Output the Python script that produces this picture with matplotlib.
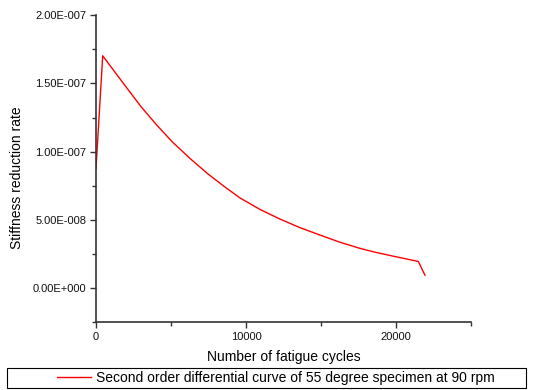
import matplotlib
matplotlib.use("Agg")
import matplotlib.pyplot as plt
from matplotlib.patches import Rectangle
from matplotlib.ticker import MultipleLocator, FuncFormatter

cycles = [0, 447, 1822, 3000, 4047, 5100, 6267, 7420, 8487, 9600, 10930, 12267,
          13600, 14933, 16267, 17600, 18600, 19600, 21487, 21933]
rate = [8.76e-8, 1.703e-7, 1.501e-7, 1.33e-7, 1.195e-7, 1.07e-7, 9.5e-8, 8.4e-8, 7.49e-8,
        6.6e-8, 5.76e-8, 5.05e-8, 4.42e-8, 3.88e-8, 3.35e-8, 2.9e-8, 2.62e-8, 2.38e-8,
        1.94e-8, 9.3e-9]
series_label = "Second order differential curve of 55 degree specimen at 90 rpm"
x_label = "Number of fatigue cycles"
y_label = "Stiffness reduction rate"
y_tick_labels = {0: "0.00E+000", 1: "5.00E-008", 2: "1.00E-007", 3: "1.50E-007", 4: "2.00E-007"}

plt.rcParams['font.family'] = ['Liberation Sans', 'DejaVu Sans']
W, H = 534, 390
fig = plt.figure(figsize=(W / 100, H / 100), dpi=100)
ax = fig.add_axes([96 / W, 1 - 322 / H, (471 - 96) / W, (322 - 15.3) / H])

line, = ax.plot(cycles, rate, color='#ff0000', lw=1.0, label=series_label)

ax.set_xlim(0, 25000)
ax.set_ylim(-2.5e-8, 2.0e-7)
ax.xaxis.set_major_locator(MultipleLocator(10000))
ax.xaxis.set_minor_locator(MultipleLocator(5000))
ax.yaxis.set_major_locator(MultipleLocator(5e-8))
ax.yaxis.set_minor_locator(MultipleLocator(2.5e-8))
ax.yaxis.set_major_formatter(FuncFormatter(lambda v, p: y_tick_labels.get(int(round(v / 5e-8)), "")))
ax.xaxis.set_major_formatter(FuncFormatter(lambda v, p: "%d" % v))

for s in ['top', 'right']:
    ax.spines[s].set_visible(False)
for s in ['left', 'bottom']:
    ax.spines[s].set_color('#333333')
    ax.spines[s].set_linewidth(1.2)
ax.tick_params(which='major', direction='out', length=4, width=1.0, color='#333333',
               labelsize=8, pad=3, labelcolor='#111111')
ax.tick_params(which='minor', direction='out', length=3, width=1.0, color='#333333')
ax.set_xlabel(x_label, fontsize=10)
ax.set_ylabel(y_label, fontsize=10)
ax.xaxis.set_label_coords(0.5, 1 - (357 - 15.3) / (322 - 15.3), transform=ax.transAxes)
ax.yaxis.set_label_coords(-(96 - 17) / (471 - 96), 1 - (178 - 15.3) / (322 - 15.3))
ax.xaxis.label.set_va('center')
ax.yaxis.label.set_va('center')

fig.patches.append(Rectangle((7 / W, 2 / H), 519 / W, 20 / H, transform=fig.transFigure,
                             fill=False, edgecolor='black', lw=0.8))
fig.legend(handles=[line], loc='center', bbox_to_anchor=(276 / W, 12 / H), frameon=False,
           fontsize=10, handlelength=2.4, handletextpad=0.36, borderpad=0)

fig.savefig("out.png", dpi=100)
